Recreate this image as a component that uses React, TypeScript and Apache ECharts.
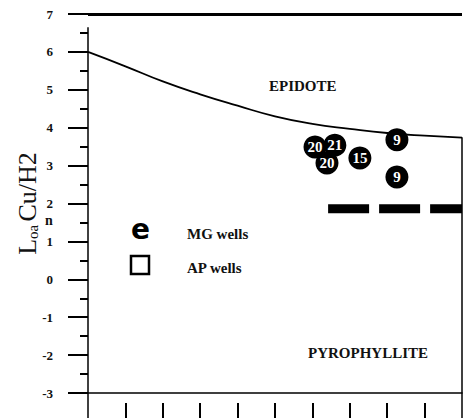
import React, { useEffect, useRef } from "react";
import * as echarts from "echarts";

// Boundary curve EPIDOTE / PYROPHYLLITE
const curveX = [0, 1, 2, 3, 4, 5, 6, 7, 8, 9, 10];
const curveY = [6.0, 5.62, 5.22, 4.88, 4.58, 4.3, 4.1, 3.97, 3.86, 3.79, 3.74];

// MG wells
const wellLabels = ["20", "21", "20", "15", "9", "9"];
const wellX = [6.07, 6.6, 6.39, 7.27, 8.26, 8.26];
const wellY = [3.49, 3.54, 3.07, 3.2, 3.68, 2.7];

// thick dashed line
const dashX = [6.42, 10];
const dashY = [1.86, 1.86];

// frame spans
const topLineY = 7;
const leftSpan = [6.65, -3];
const rightSpan = [3.75, -3];

const xTickLabels = ["0", "1", "2", "3", "4", "5", "6", "7", "8", "9", "10"];

const serif = "Liberation Serif";

export default function App() {
  const ref = useRef<HTMLDivElement>(null);
  useEffect(() => {
    if (!ref.current) return;
    const chart = echarts.init(ref.current, null, { renderer: "svg" });
    const catAxisBase = {
      type: "category",
      data: xTickLabels,
      boundaryGap: false,
      position: "bottom",
      axisLine: { show: false, onZero: false },
      axisLabel: { show: false },
      splitLine: { show: false },
    };
    const txt = (text: string, left: number, top: number, size: number) => ({
      type: "text",
      left,
      top,
      style: { text, fontFamily: serif, fontWeight: "bold", fontSize: size, fill: "#111" },
    });
    chart.setOption({
      animation: false,
      backgroundColor: "#fff",
      grid: { left: 88, right: 3, top: 14, bottom: 25, containLabel: false, outerBoundsMode: "none" },
      xAxis: [
        {
          type: "value",
          min: 0,
          max: 10,
          interval: 1,
          axisLine: { show: true, onZero: false, lineStyle: { color: "#000", width: 1.5 } },
          axisTick: { show: false },
          axisLabel: { show: false },
          splitLine: { show: false },
        },
        {
          ...catAxisBase,
          offset: 0,
          axisTick: {
            show: true,
            length: 25,
            interval: (i: number) => i === 0 || i === 10,
            lineStyle: { color: "#000", width: 1.5 },
          },
        },
        {
          ...catAxisBase,
          offset: 10,
          axisTick: {
            show: true,
            length: 15,
            interval: (i: number) => i > 0 && i < 10,
            lineStyle: { color: "#000", width: 2 },
          },
        },
      ],
      yAxis: {
        type: "value",
        min: -3,
        max: 7,
        interval: 1,
        name: "{a|L}{b|oa} {a|Cu/H2}",
        nameLocation: "middle",
        nameGap: 48,
        nameMoveOverlap: false,
        nameRotate: 90,
        nameTextStyle: {
          rich: {
            a: { fontFamily: serif, fontSize: 26, color: "#111" },
            b: { fontFamily: serif, fontSize: 15, color: "#111", verticalAlign: "bottom" },
          },
        },
        axisLine: { show: false },
        axisTick: { show: true, length: 20, lineStyle: { color: "#000", width: 2 } },
        minorTick: { show: true, splitNumber: 2, length: 8, lineStyle: { color: "#000", width: 2 } },
        axisLabel: {
          margin: 35,
          fontFamily: serif,
          fontWeight: "bold",
          fontSize: 13,
          color: "#111",
        },
        splitLine: { show: false },
        minorSplitLine: { show: false },
      },
      graphic: [
        txt("n", 45, 213, 14),
        { type: "text", left: 131, top: 215, style: { text: "e", fontFamily: "DejaVu Sans", fontWeight: "bold", fontSize: 28, fill: "#000" } },
        { type: "rect", shape: { x: 131, y: 256, width: 18, height: 18 }, style: { fill: "none", stroke: "#000", lineWidth: 2.5 } },
        txt("MG wells", 187, 226, 15),
        txt("AP wells", 187, 260, 15),
        txt("EPIDOTE", 269, 78, 15),
        txt("PYROPHYLLITE", 308, 345, 15),
      ],
      series: [
        {
          type: "line",
          name: "frame",
          data: [],
          silent: true,
          markLine: {
            silent: true,
            symbol: "none",
            label: { show: false },
            lineStyle: { color: "#000", type: "solid", width: 1.5 },
            data: [
              { yAxis: topLineY, lineStyle: { width: 3, color: "#000", type: "solid" } },
              [{ coord: [0, leftSpan[0]] }, { coord: [0, leftSpan[1]] }],
              [{ coord: [10, rightSpan[0]] }, { coord: [10, rightSpan[1]] }],
            ],
          },
        },
        {
          type: "line",
          name: "boundary",
          smooth: true,
          symbol: "none",
          data: curveX.map((x, i) => [x, curveY[i]]),
          lineStyle: { color: "#000", width: 1.8 },
        },
        {
          type: "line",
          name: "dashed",
          symbol: "none",
          data: dashX.map((x, i) => [x, dashY[i]]),
          lineStyle: { color: "#000", width: 9, type: [41, 10], cap: "butt" },
        },
        {
          type: "scatter",
          name: "MG wells",
          symbol: "circle",
          symbolSize: 23,
          itemStyle: { color: "#000", opacity: 1 },
          label: {
            show: true,
            position: "inside",
            formatter: (p: any) => p.data[2],
            color: "#fff",
            fontFamily: serif,
            fontWeight: "bold",
            fontSize: 15,
          },
          data: wellX.map((x, i) => [x, wellY[i], wellLabels[i]]),
        },
      ],
    });
    return () => chart.dispose();
  }, []);
  return (
    <div
      ref={ref}
      style={{ position: "fixed", left: 0, top: 0, width: 465, height: 418 }}
    />
  );
}
